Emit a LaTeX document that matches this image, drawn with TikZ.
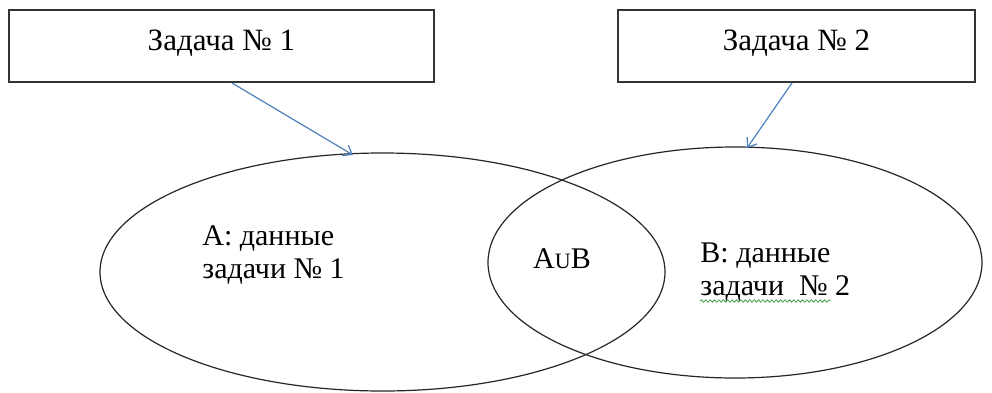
\documentclass[tikz,border=0pt]{standalone}
\usepackage{fontspec}
\setmainfont{Liberation Serif}
\newfontfamily\timesfont{Liberation Serif}
\usetikzlibrary{shapes.geometric, positioning, arrows.meta, decorations.pathmorphing}
\usepackage{xcolor}
\definecolor{wordblue}{RGB}{79,129,189}
\definecolor{spellgreen}{RGB}{70,160,70}

\begin{document}
\begin{tikzpicture}[%
    x=0.5pt, y=-0.5pt,
    >={Straight Barb[length=4pt,width=6pt]},
    every node/.style={%
      font=\timesfont\fontsize{15.5}{18}\selectfont,
      text=black,
      inner sep=0pt
    },
    settext/.style={font=\timesfont\fontsize{15}{18}\selectfont},
    taskbox/.style={draw=black!80, line width=1pt, rectangle, minimum height=36pt},
    dataset/.style={draw=black!85, line width=0.6pt, ellipse},
    link/.style={->, draw=wordblue, line width=0.6pt}
  ]

  \fill[white] (0,0) rectangle (992,392);
  \useasboundingbox (0,0) rectangle (992,392);

  % Task boxes
  \node[taskbox, minimum width=212.5pt] (box1) at (221.5,46) {};
  \node[taskbox, minimum width=178.5pt] (box2) at (796.5,46) {};
  \node[anchor=base] (t1) at (221.5,50) {Задача № 1};
  \node[anchor=base] (t2) at (796.5,50) {Задача № 2};

  % Sets
  \node[dataset, minimum width=282.5pt, minimum height=119pt] (setA) at (382.5,272) {};
  \node[dataset, minimum width=247pt, minimum height=115.5pt] (setB) at (735,262.5) {};

  \node[settext, anchor=base west] (a1) at (202,245) {A: данные};
  \node[settext, below=16.5pt of a1.base west, anchor=base west] (a2) {задачи № 1};
  \node[settext, anchor=base] (ab) at (562,268) {A{\fontsize{11}{13}\selectfont U}B};
  \node[settext, anchor=base west] (b1) at (700,262) {B: данные};
  \node[settext, below=16.5pt of b1.base west, anchor=base west] (b2) {задачи\ \ № 2};

  % Spell check squiggle
  \draw[spellgreen, line width=0.4pt, decorate,
    decoration={snake, amplitude=0.6pt, segment length=2.2pt}]
    ([yshift=-3pt]b2.base west) -- ([yshift=-3pt, xshift=-10pt]b2.base east);

  % Arrows
  \coordinate (tipA) at (353,155);
  \coordinate (tipB) at (747,148);
  \draw[link] ([xshift=5.25pt]box1.south) -- (tipA);
  \draw[link] ([xshift=-2.25pt]box2.south) -- (tipB);

\end{tikzpicture}
\end{document}
